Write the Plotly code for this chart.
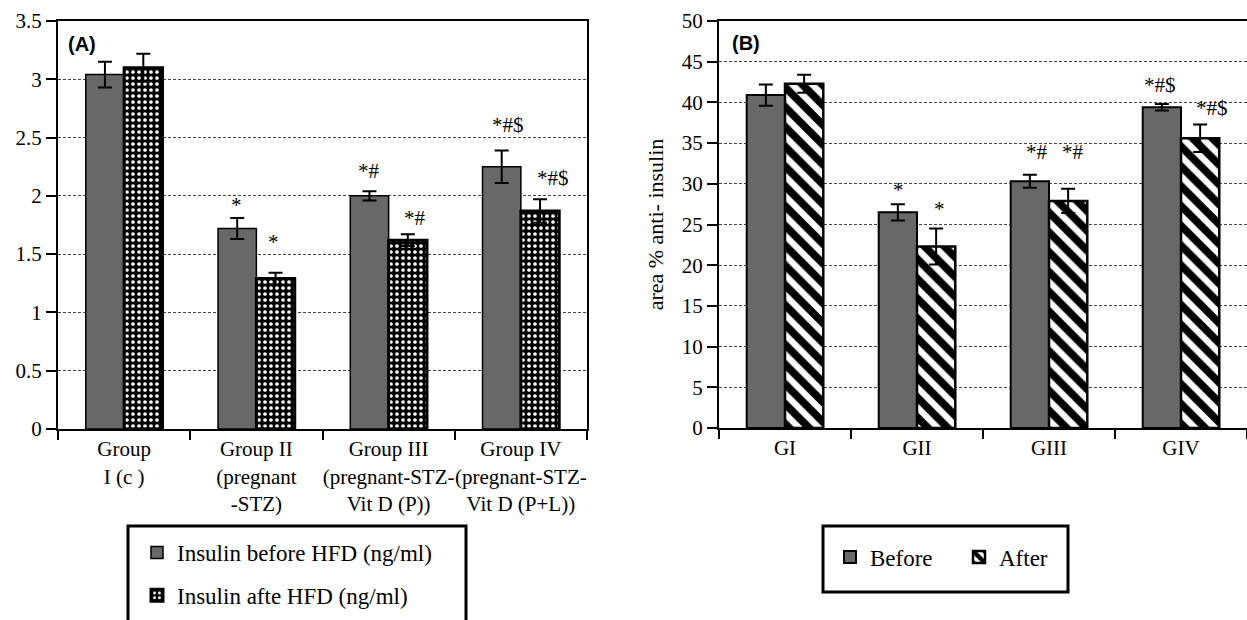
import plotly.graph_objects as go

# ---------------- data ----------------
cats_A = ["Group<br>I (c )", "Group II<br>(pregnant<br>-STZ)",
          "Group III<br>(pregnant-STZ-<br>Vit D (P))",
          "Group IV<br>(pregnant-STZ-<br>Vit D (P+L))"]
A_before = [3.04, 1.72, 2.00, 2.25]
A_before_err = [0.11, 0.09, 0.04, 0.14]
A_after = [3.10, 1.29, 1.62, 1.87]
A_after_err = [0.12, 0.05, 0.05, 0.10]
A_names = ["Insulin before HFD (ng/ml)", "Insulin afte HFD (ng/ml)"]

cats_B = ["GI", "GII", "GIII", "GIV"]
B_before = [40.9, 26.5, 30.3, 39.4]
B_before_err = [1.3, 1.0, 0.8, 0.4]
B_after = [42.3, 22.3, 27.9, 35.6]
B_after_err = [1.1, 2.2, 1.5, 1.7]
B_names = ["Before", "After"]

# significance labels: (category index, text, label height in data units)
sig_A_before = [(1, "*", 1.965), (2, "*#", 2.214), (3, "*#$", 2.608)]
sig_A_after = [(1, "*", 1.648), (2, "*#", 1.81), (3, "*#$", 2.153)]
sig_B_before = [(1, "*", 29.85), (2, "*#", 33.9), (3, "*#$", 42.1)]
sig_B_after = [(1, "*", 27.5), (2, "*#", 33.9), (3, "*#$", 39.3)]

# ---------------- styling ----------------
W, H = 1247, 620
SERIF = "Liberation Serif"
GRAY = "#686868"

def px_x(p):
    return p / W

def px_y(p):
    return 1 - p / H

fig = go.Figure()

fig.add_trace(go.Bar(
    x=cats_A, y=A_before, name=A_names[0], xaxis="x", yaxis="y",
    marker=dict(color=GRAY, line=dict(color="black", width=1.5)),
    error_y=dict(type="data", array=A_before_err, color="black", thickness=2, width=7),
    legend="legend", legendgroup="a1"))
fig.add_trace(go.Bar(
    x=cats_A, y=A_after, name=A_names[1], xaxis="x", yaxis="y",
    marker=dict(color="black", line=dict(color="black", width=3),
                pattern=dict(shape=".", bgcolor="black", fgcolor="white",
                             size=6, solidity=0.3, fillmode="replace")),
    error_y=dict(type="data", array=A_after_err, color="black", thickness=2, width=7),
    legend="legend", legendgroup="a2"))

fig.add_trace(go.Bar(
    x=cats_B, y=B_before, name=B_names[0], xaxis="x2", yaxis="y2",
    marker=dict(color=GRAY, line=dict(color="black", width=2)),
    error_y=dict(type="data", array=B_before_err, color="black", thickness=2, width=7),
    legend="legend2"))
fig.add_trace(go.Bar(
    x=cats_B, y=B_after, name=B_names[1], xaxis="x2", yaxis="y2",
    marker=dict(color="white", line=dict(color="black", width=2.5),
                pattern=dict(shape="\\", bgcolor="white", fgcolor="black",
                             fgopacity=1, size=14, solidity=0.55)),
    error_y=dict(type="data", array=B_after_err, color="black", thickness=2, width=7),
    legend="legend2"))

annotations = []
xs_A_before = {1: -20, 2: -20, 3: -13}
xs_A_after = {1: 17, 2: 26, 3: 32}
xs_B_before = {1: -19, 2: -12, 3: -21}
xs_B_after = {1: 22, 2: 24, 3: 31}
for lst, cats, xref, yref, shifts in [
        (sig_A_before, cats_A, "x", "y", xs_A_before),
        (sig_A_after, cats_A, "x", "y", xs_A_after),
        (sig_B_before, cats_B, "x2", "y2", xs_B_before),
        (sig_B_after, cats_B, "x2", "y2", xs_B_after)]:
    for i, txt, yy in lst:
        annotations.append(dict(
            x=cats[i], y=yy, xref=xref, yref=yref, text=txt, showarrow=False,
            xanchor="center", yanchor="middle", xshift=shifts[i],
            yshift=-5 if txt == "*" else 0,
            font=dict(family=SERIF, size=21, color="black")))

annotations.append(dict(x=px_x(66), y=px_y(31), xref="paper", yref="paper",
                        text="<b>(A)</b>", showarrow=False, xanchor="left", yanchor="top",
                        font=dict(family="Liberation Sans", size=20, color="black")))
annotations.append(dict(x=px_x(730), y=px_y(30), xref="paper", yref="paper",
                        text="<b>(B)</b>", showarrow=False, xanchor="left", yanchor="top",
                        font=dict(family="Liberation Sans", size=20, color="black")))

axis_common = dict(showline=True, linecolor="black", linewidth=2, mirror=True,
                   ticks="outside", tickcolor="black", tickwidth=2, automargin=False,
                   tickfont=dict(family=SERIF, size=21, color="black"))
grid = dict(showgrid=True, gridcolor="#444444", gridwidth=1, griddash="3px,2px")

fig.update_layout(
    width=W, height=H,
    margin=dict(l=0, r=0, t=0, b=0, autoexpand=False),
    paper_bgcolor="white", plot_bgcolor="white",
    font=dict(family=SERIF, color="black"),
    barmode="group", bargap=0.42, bargroupgap=0.0,
    xaxis=dict(domain=[px_x(58), px_x(587)], anchor="y", tickson="boundaries",
               ticklen=9, showgrid=False, tickangle=0, **axis_common),
    yaxis=dict(domain=[px_y(429), px_y(21)], anchor="x", range=[0, 3.5],
               tickvals=[0, 0.5, 1, 1.5, 2, 2.5, 3, 3.5],
               ticktext=["0", "0.5", "1", "1.5", "2", "2.5", "3", "3.5"],
               ticklen=10, zeroline=False, **grid, **axis_common),
    xaxis2=dict(domain=[px_x(719), 1.0], anchor="y2", tickson="boundaries",
                ticklen=9, showgrid=False, tickangle=0, **axis_common),
    yaxis2=dict(domain=[px_y(428), px_y(21)], anchor="x2", range=[0, 50],
                dtick=5, ticklen=10, zeroline=False,
                title=dict(text="area % anti- insulin", standoff=12,
                           font=dict(family=SERIF, size=22, color="black")),
                **grid, **axis_common),
    legend=dict(x=px_x(137), y=px_y(531), xanchor="left", yanchor="top",
                orientation="v", bgcolor="rgba(0,0,0,0)", borderwidth=0,
                tracegroupgap=10,
                font=dict(family=SERIF, size=23, color="black")),
    legend2=dict(x=px_x(830), y=px_y(557), xanchor="left", yanchor="middle",
                 orientation="h", bgcolor="rgba(0,0,0,0)", borderwidth=0,
                 entrywidth=84, entrywidthmode="pixels",
                 font=dict(family=SERIF, size=23, color="black")),
    annotations=annotations,
    shapes=[
        dict(type="rect", xref="paper", yref="paper",
             x0=px_x(128), x1=px_x(466), y0=px_y(640), y1=px_y(526),
             line=dict(color="black", width=3)),
        dict(type="rect", xref="paper", yref="paper",
             x0=px_x(823), x1=px_x(1068), y0=px_y(592), y1=px_y(526),
             line=dict(color="black", width=3)),
    ],
)

fig.write_html("out.html", config={"displayModeBar": False},
               post_script="document.body.style.margin='0';")
